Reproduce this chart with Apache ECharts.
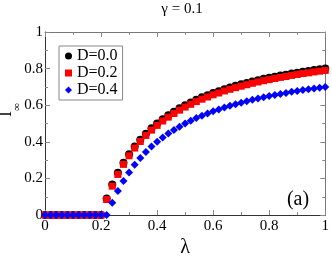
<!DOCTYPE html>
<html>
<head>
<meta charset="utf-8">
<script src="https://cdn.jsdelivr.net/npm/echarts@6/dist/echarts.min.js"></script>
<style>html,body{margin:0;padding:0;background:#fff;}#c{width:332px;height:263px;}</style>
</head>
<body>
<div id="c"></div>
<script>
var lambdas = [0,0.02,0.04,0.06,0.08,0.10,0.12,0.14,0.16,0.18,0.20,0.22,0.24,0.26,0.28,0.30,0.32,0.34,0.36,0.38,0.40,0.42,0.44,0.46,0.48,0.50,0.52,0.54,0.56,0.58,0.60,0.62,0.64,0.66,0.68,0.70,0.72,0.74,0.76,0.78,0.80,0.82,0.84,0.86,0.88,0.90,0.92,0.94,0.96,0.98,1.00];
var seriesNames = ['D=0.0','D=0.2','D=0.4'];
var iD00 = [0,0,0,0,0,0,0,0,0,0,0,0.091,0.167,0.231,0.286,0.333,0.375,0.412,0.444,0.474,0.500,0.524,0.545,0.565,0.583,0.600,0.615,0.630,0.643,0.655,0.667,0.677,0.688,0.697,0.706,0.714,0.722,0.730,0.737,0.744,0.750,0.756,0.762,0.767,0.773,0.778,0.783,0.787,0.792,0.796,0.800];
var iD02 = [0,0,0,0,0,0,0,0,0,0,0,0.085,0.158,0.222,0.277,0.324,0.366,0.402,0.435,0.464,0.490,0.514,0.535,0.555,0.573,0.590,0.605,0.620,0.633,0.645,0.657,0.667,0.678,0.687,0.696,0.704,0.712,0.720,0.727,0.734,0.740,0.746,0.752,0.757,0.763,0.768,0.773,0.777,0.782,0.786,0.790];
var iD04 = [0,0,0,0,0,0,0,0,0,0,0,0,0.067,0.131,0.186,0.233,0.275,0.312,0.344,0.374,0.400,0.424,0.445,0.465,0.483,0.500,0.515,0.530,0.543,0.555,0.567,0.577,0.588,0.597,0.606,0.614,0.622,0.630,0.637,0.644,0.650,0.656,0.662,0.667,0.673,0.678,0.683,0.687,0.692,0.696,0.700];
var xTicks = [0,0.2,0.4,0.6,0.8,1];
var yTicks = [0,0.2,0.4,0.6,0.8,1];
var titleText = 'γ = 0.1';
var panelText = '(a)';

function pairs(ys){ return lambdas.map(function(x,i){ return [x, ys[i]]; }); }
function fmt(v){ return String(+v.toFixed(1)); }

var FONT = 'Liberation Serif';
var lineC = '#333';
var tickC = '#888';

function axisBase(pos, isX, showLabel){
  return {
    type:'value', position: pos, min:0, max:1, interval:0.2,
    axisLine:{show:true, onZero:false, lineStyle:{color: showLabel ? lineC : '#777', width:1}},
    axisTick:{show:true, inside:true, length:5, lineStyle:{color:tickC}},
    minorTick:{show:true, splitNumber:2, length:3, lineStyle:{color:tickC}},
    splitLine:{show:false},
    axisLabel:{show:showLabel, fontFamily:FONT, fontSize:15, fontWeight:'normal', color:'#000', margin: isX?3:2,
      formatter:function(v){ return fmt(v); }}
  };
}
function gtext(x, y, txt, size, rot){
  var o = {type:'text', x:x, y:y, style:{text:txt, fontFamily:FONT, fontSize:size, fill:'#000', align:'center', verticalAlign:'middle'}};
  if (rot) o.rotation = rot;
  return o;
}

var chart = echarts.init(document.getElementById('c'), null, {renderer:'canvas'});
var xa = axisBase('bottom', true, true);
xa.name = 'λ'; xa.nameLocation='middle'; xa.nameGap = 21;
xa.nameTextStyle = {fontFamily:FONT, fontSize:20, color:'#000'};
var xa2 = axisBase('top', true, false);
var ya = axisBase('left', false, true);
var ya2 = axisBase('right', false, false);

chart.setOption({
  animation:false,
  backgroundColor:'#fff',
  textStyle:{fontFamily:FONT},
  grid:{left:45, right:4, top:32, bottom:33},
  xAxis:[xa, xa2],
  yAxis:[ya, ya2],
  legend:{
    orient:'vertical', left:59, top:46,
    data: seriesNames,
    borderColor:'#888', borderWidth:1, borderRadius:0,
    padding:[2,5,2,6], itemGap:1,
    itemWidth:7, itemHeight:7,
    textStyle:{fontFamily:FONT, fontSize:16, color:'#000', padding:[0,0,0,0], lineHeight:13}
  },
  graphic:[
    gtext(182, 9, titleText, 15),
    gtext(298, 200, panelText, 20),
    gtext(6, 114, 'I', 18, Math.PI/2),
    gtext(17, 107, '∞', 11, Math.PI/2)
  ],
  series:[
    {name:seriesNames[0], type:'scatter', data:pairs(iD00), symbol:'circle', symbolSize:8, clip:false,
     itemStyle:{color:'#000', opacity:1}},
    {name:seriesNames[1], type:'scatter', data:pairs(iD02), symbol:'rect', symbolSize:7, clip:false,
     itemStyle:{color:'#ff0000', opacity:1}},
    {name:seriesNames[2], type:'scatter', data:pairs(iD04), symbol:'diamond', symbolSize:8, clip:false,
     itemStyle:{color:'#0000ff', opacity:1}}
  ]
});
</script>
</body>
</html>
